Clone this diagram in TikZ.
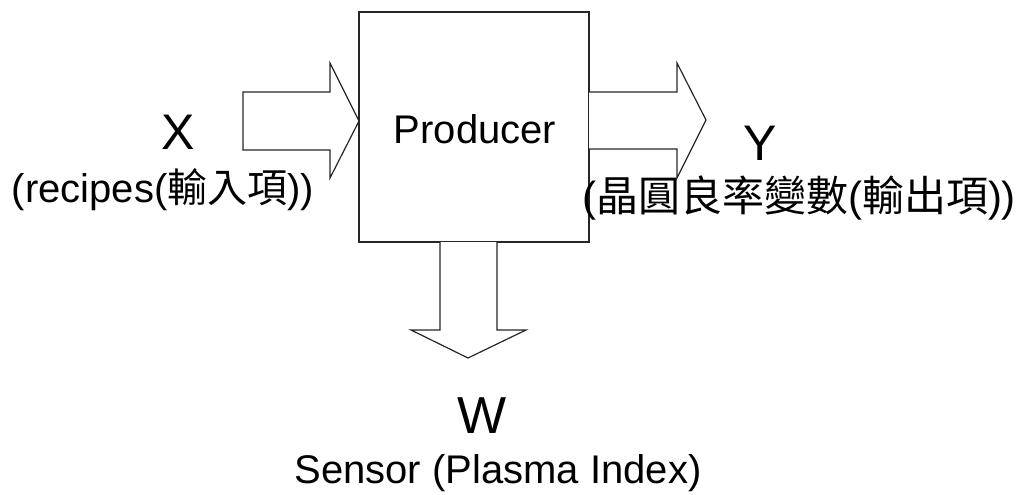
\documentclass[tikz,border=0pt]{standalone}
\usepackage{fontspec}
\setmainfont{Liberation Sans}
\newfontfamily\cjk{Noto Sans CJK TC}
\begin{document}
\begin{tikzpicture}[x=1pt,y=-1pt,
  blockarrow/.style={draw=black!85,line width=1.2pt,fill=white,line join=miter},
  lbl/.style={inner sep=0pt,text=black},
  big/.style={lbl,font=\fontsize{50}{56}\selectfont},
  mid/.style={lbl,font=\fontsize{40}{46}\selectfont}]
\useasboundingbox (0,0) rectangle (1018,495);

% central block
\node[draw=black!85,line width=1.2pt,minimum width=230pt,minimum height=230pt,inner sep=0pt]
  (prod) at (474,127) {};
\node[mid,anchor=base] (prodlbl) at (475,143) {Producer};

% input arrow
\coordinate (inTip) at (359,121);
\draw[blockarrow] (243,92) -- (330,92) -- (330,63) -- (inTip) -- (330,178) -- (330,150) -- (243,150) -- cycle;

% output arrow
\coordinate (outTip) at (706,120);
\draw[blockarrow] (589,92) -- (677,92) -- (677,63) -- (outTip) -- (677,178) -- (677,149) -- (589,149);

% sensor arrow
\coordinate (dnTip) at (468,358);
\draw[blockarrow] (440,242) -- (440,330) -- (411,330) -- (dnTip) -- (526,330) -- (497,330) -- (497,242);

% labels
\node[big,anchor=base] (xl) at (178,149) {X};
\node[mid,anchor=base] (xd) at (163,202) {(recipes({\cjk 輸入項}))};
\node[big,anchor=base] (yl) at (760,160) {Y};
\node[lbl,font=\fontsize{42}{48}\selectfont,anchor=center] (yd) at (799,198) {({\cjk 晶圓良率變數}({\cjk 輸出項}))};
\node[lbl,font=\fontsize{52}{58}\selectfont,anchor=base] (wl) at (482,433) {W};
\node[mid,anchor=base] (wd) at (498,483) {Sensor (Plasma Index)};
\end{tikzpicture}
\end{document}
